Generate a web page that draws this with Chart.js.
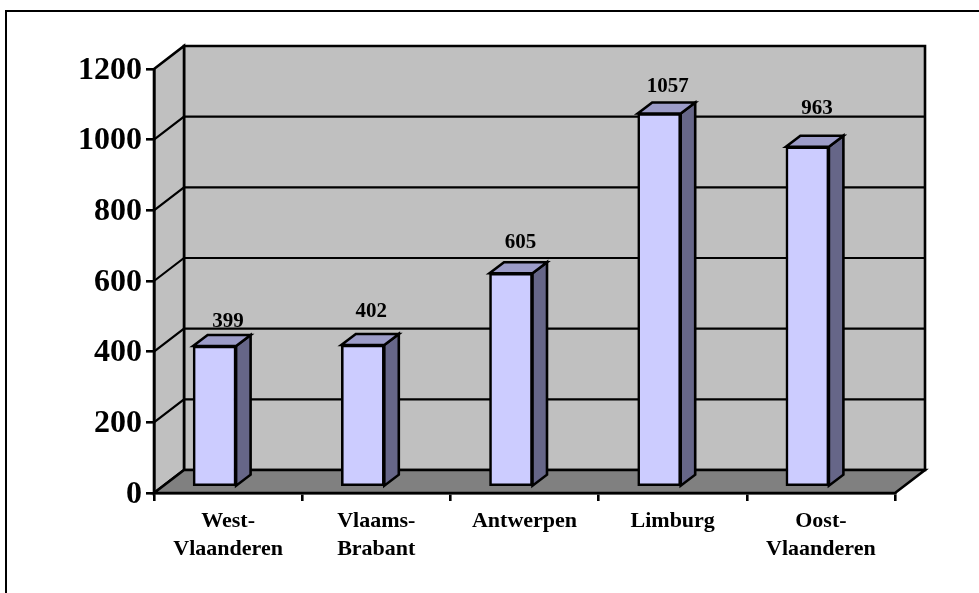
<!DOCTYPE html>
<html><head><meta charset="utf-8">
<style>html,body{margin:0;padding:0;background:#fff}#w{width:979px;height:593px}</style>
<script src="https://cdn.jsdelivr.net/npm/chart.js@4"></script>
</head><body><div id="w"><canvas id="c" width="979" height="593"></canvas></div>
<script>
const categories = [['West-','Vlaanderen'],['Vlaams-','Brabant'],'Antwerpen','Limburg',['Oost-','Vlaanderen']];
const values = [399,402,605,1057,963];
const yMax = 1200;
const yStep = 200;
const labelLift = [24,33,31,27,38];
const labelShift = [0,-5,-4,-5,-4];

const FONT = '"Liberation Serif","Times New Roman",serif';
const WALL = '#C0C0C0', FLOOR = '#808080', FRONT = '#CCCCFF', SIDE = '#666688', TOP = '#9C9CC8';
const DEPTH_X = 30, DEPTH_Y = 23;
const BAR_DX = -13.5, BAR_DY = -6, BAR_DEPTH_X = 14.5, BAR_DEPTH_Y = 11;
const LINE = 2.6, GRID_LINE = 2.2;

function poly(ctx, pts, fill){
  ctx.beginPath();
  pts.forEach((p,i)=> i ? ctx.lineTo(p[0],p[1]) : ctx.moveTo(p[0],p[1]));
  ctx.closePath();
  if(fill){ctx.fillStyle=fill;ctx.fill();}
  ctx.stroke();
}

const stage = {
  id:'stage',
  beforeDraw(chart){
    const {ctx, chartArea:a, scales:{y}} = chart;
    ctx.save();
    ctx.strokeStyle='#000'; ctx.lineWidth=2; ctx.lineJoin='miter';
    ctx.beginPath();
    ctx.moveTo(6,593);ctx.lineTo(6,11);ctx.lineTo(979,11);
    ctx.stroke();
    ctx.lineWidth=LINE;
    const dx=DEPTH_X, dy=DEPTH_Y;
    poly(ctx,[[a.left+dx,a.top-dy],[a.right+dx,a.top-dy],[a.right+dx,a.bottom-dy],[a.left+dx,a.bottom-dy]],WALL);
    poly(ctx,[[a.left,a.top],[a.left+dx,a.top-dy],[a.left+dx,a.bottom-dy],[a.left,a.bottom]],WALL);
    poly(ctx,[[a.left,a.bottom],[a.left+dx,a.bottom-dy],[a.right+dx,a.bottom-dy],[a.right,a.bottom]],FLOOR);
    ctx.lineWidth=GRID_LINE;
    y.ticks.forEach(t=>{
      if(t.value===0||t.value===yMax) return;
      const py=y.getPixelForValue(t.value);
      ctx.beginPath();
      ctx.moveTo(a.left,py);ctx.lineTo(a.left+dx,py-dy);ctx.lineTo(a.right+dx,py-dy);
      ctx.stroke();
    });
    ctx.restore();
  },
  beforeDatasetsDraw(chart){
    const {ctx} = chart;
    ctx.save();
    ctx.translate(BAR_DX,BAR_DY);
    ctx.strokeStyle='#000'; ctx.lineWidth=LINE; ctx.lineJoin='miter';
    chart.getDatasetMeta(0).data.forEach(el=>{
      const l=el.x-el.width/2, r=el.x+el.width/2, t=el.y, b=el.base;
      const ox=BAR_DEPTH_X, oy=BAR_DEPTH_Y;
      poly(ctx,[[r,t],[r+ox,t-oy],[r+ox,b-oy],[r,b]],SIDE);
      poly(ctx,[[l,t],[l+ox,t-oy],[r+ox,t-oy],[r,t]],TOP);
    });
  },
  afterDatasetsDraw(chart){
    const {ctx} = chart;
    ctx.restore();
    ctx.save();
    ctx.fillStyle='#000';
    ctx.font='bold 21px '+FONT;
    ctx.textAlign='center';ctx.textBaseline='middle';
    chart.getDatasetMeta(0).data.forEach((el,i)=>{
      ctx.fillText(String(values[i]), el.x+labelShift[i], el.y+BAR_DY-labelLift[i]);
    });
    ctx.restore();
  }
};

new Chart(document.getElementById('c'),{
  type:'bar',
  data:{labels:categories,datasets:[{data:values,backgroundColor:FRONT,borderColor:'#000',borderWidth:LINE,barThickness:43,borderSkipped:false}]},
  plugins:[stage],
  options:{
    responsive:false,animation:false,
    layout:{padding:{left:0,top:69,right:84,bottom:0}},
    plugins:{legend:{display:false},title:{display:false},tooltip:{enabled:false}},
    scales:{
      x:{
        afterFit(s){s.height=100;},
        grid:{drawOnChartArea:false,tickLength:8,color:'#000',lineWidth:LINE},
        border:{color:'#000',width:LINE},
        ticks:{color:'#000',font:{family:FONT,size:22,weight:'bold',lineHeight:1.27},maxRotation:0,minRotation:0,padding:6,autoSkip:false}
      },
      y:{
        min:0,max:yMax,
        afterFit(s){s.width=154;},
        grid:{drawOnChartArea:false,tickLength:8,color:'#000',lineWidth:LINE},
        border:{color:'#000',width:LINE},
        ticks:{color:'#000',stepSize:yStep,font:{family:FONT,size:32,weight:'bold',lineHeight:'3px'},padding:4,callback:v=>['',String(v)]}
      }
    }
  }
});
</script></body></html>
